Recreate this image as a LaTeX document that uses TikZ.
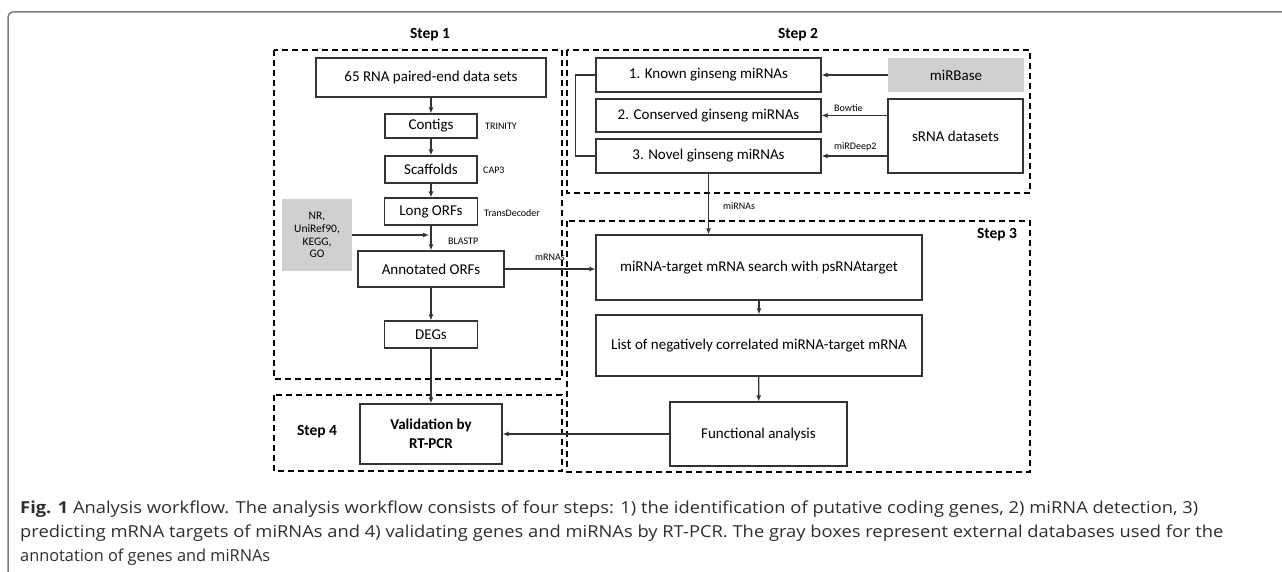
\documentclass[tikz,border=0pt]{standalone}
\usepackage{fontspec}
\usepackage{graphicx}
\setmainfont{Carlito}
\newfontfamily\capfont{Open Sans}
\usetikzlibrary{arrows.meta}
\definecolor{ink}{HTML}{333333}
\definecolor{dbfill}{HTML}{D0D0D0}
\definecolor{framecol}{HTML}{7A7A7A}
\definecolor{captext}{HTML}{2E2E2E}
\tikzset{
  box/.style={draw=ink, line width=1.2pt, fill=white, inner sep=0pt, align=center,
              font=\fontsize{15}{17}\selectfont, text=black},
  graybox/.style={fill=dbfill, draw=none, inner sep=0pt, align=center, text=black},
  stepframe/.style={draw=black, line width=1.3pt, dash pattern=on 6pt off 4pt},
  steplbl/.style={font=\fontsize{15.5}{18}\selectfont\bfseries, inner sep=0pt},
  tool/.style={font=\fontsize{10}{12}\selectfont, inner sep=0pt, anchor=west},
  arr/.style={draw=ink, line width=1.2pt, -{Latex[length=6pt,width=5pt]}},
  link/.style={draw=ink, line width=1.2pt},
}
\begin{document}
\begin{tikzpicture}[x=1pt, y=-1pt]
\useasboundingbox (0,0) rectangle (1282,572);

% caption frame
\draw[framecol, line width=1.5pt, rounded corners=5pt] (8,572) -- (8,12) -- (1282,12);

% step frames
\draw[stepframe] (274,50) rectangle (562,379);
\draw[stepframe] (567,50) rectangle (1030,193);
\draw[stepframe] (567,221) rectangle (1030,472);
\draw[stepframe] (274,395) rectangle (562,471);
\node[steplbl] (s1) at (430,35) {Step 1};
\node[steplbl] (s2) at (798,35) {Step 2};
\node[steplbl] (s3) at (997,235) {Step 3};
\node[steplbl] (s4) at (317,432) {Step 4};

% step 1
\node[box, minimum width=230, minimum height=39] (rna) at (431,77.5) {65 RNA paired-end data sets};
\node[box, minimum width=92, minimum height=24] (contigs) at (431,126) {Contigs};
\node[box, minimum width=92, minimum height=27] (scaff) at (431,169.5) {Scaffolds};
\node[box, minimum width=93, minimum height=27] (lorf) at (431,211.5) {Long ORFs};
\node[box, minimum width=146, minimum height=36] (annot) at (431,269) {Annotated ORFs};
\node[box, minimum width=93, minimum height=27] (degs) at (431,334.5) {DEGs};
\node[graybox, minimum width=70, minimum height=72, font=\fontsize{11.5}{12.8}\selectfont] (nr) at (317,235)
  {NR,\\UniRef90,\\KEGG,\\GO};
\coordinate (blast) at (431,235);

\node[tool] (t1) at (485,126) {TRINITY};
\node[tool] (t2) at (483,170) {CAP3};
\node[tool] (t3) at (484,213) {TransDecoder};
\node[tool] (t4) at (448,241) {BLASTP};

% step 4
\node[box, minimum width=142, minimum height=60, font=\fontsize{15}{19}\selectfont\bfseries] (valid) at (431,434)
  {Validation by\\RT-PCR};

% step 2
\node[box, minimum width=225, minimum height=34] (known) at (708.5,75) {1. Known ginseng miRNAs};
\node[box, minimum width=225, minimum height=33] (cons) at (708.5,115.5) {2. Conserved ginseng miRNAs};
\node[box, minimum width=225, minimum height=34] (novel) at (708.5,156) {3. Novel ginseng miRNAs};
\node[graybox, minimum width=136, minimum height=34, font=\fontsize{15}{17}\selectfont] (mirbase) at (956,75) {miRBase};
\node[box, minimum width=135, minimum height=74] (srna) at (955.5,136) {sRNA datasets};
\node[tool] (t5) at (834,108) {Bowtie};
\node[tool] (t6) at (834,147) {miRDeep2};

% step 3
\node[box, minimum width=326, minimum height=65] (search) at (759,267.5) {miRNA-target mRNA search with psRNAtarget};
\node[box, minimum width=326, minimum height=61] (list) at (759,345.5) {List of negatively correlated miRNA-target mRNA};
\node[box, minimum width=177, minimum height=64] (func) at (758.5,434) {Functional analysis};
\node[tool] (t7) at (723,206) {miRNAs};
\node[tool] (t8) at (535,257) {mRNAs};

% connectors, step 1
\draw[arr] (rna) -- (contigs);
\draw[arr] (contigs) -- (scaff);
\draw[arr] (scaff) -- (lorf);
\draw[arr] (lorf) -- (annot);
\draw[arr] (nr.east |- blast) -- ([xshift=-2pt]blast);
\draw[arr] (annot) -- (degs);
\draw[arr] (degs) -- (valid);
\draw[arr] (annot.east) -- (annot.east -| search.west);

% connectors, step 2
\draw[arr] (mirbase) -- (known);
\draw[arr] (srna.west |- cons) -- (cons.east);
\draw[arr] (srna.west |- novel) -- (novel.east);
\draw[link] (known.west) -- ++(-20,0) |- (novel.west);
\draw[arr] (novel.south) -- (novel.south |- search.north);

% connectors, step 3
\draw[arr] (search) -- (list);
\draw[arr] (list) -- (func);
\draw[arr] (func.west) -- (func.west -| valid.east);

% caption
\begin{scope}[font=\capfont\fontsize{16.5}{20}\selectfont, text=captext]
\node[anchor=base west, inner sep=0pt] (cap1) at (20,513)
  {\resizebox{1178pt}{\height}{\textbf{Fig. 1} Analysis workflow. The analysis workflow consists of four steps: 1) the identification of putative coding genes, 2) miRNA detection, 3)}};
\node[anchor=base west, inner sep=0pt] (cap2) at (20,537)
  {\resizebox{1203pt}{\height}{predicting mRNA targets of miRNAs and 4) validating genes and miRNAs by RT-PCR. The gray boxes represent external databases used for the}};
\node[anchor=base west, inner sep=0pt] (cap3) at (20,561)
  {\resizebox{250pt}{\height}{annotation of genes and miRNAs}};
\end{scope}
\end{tikzpicture}
\end{document}
